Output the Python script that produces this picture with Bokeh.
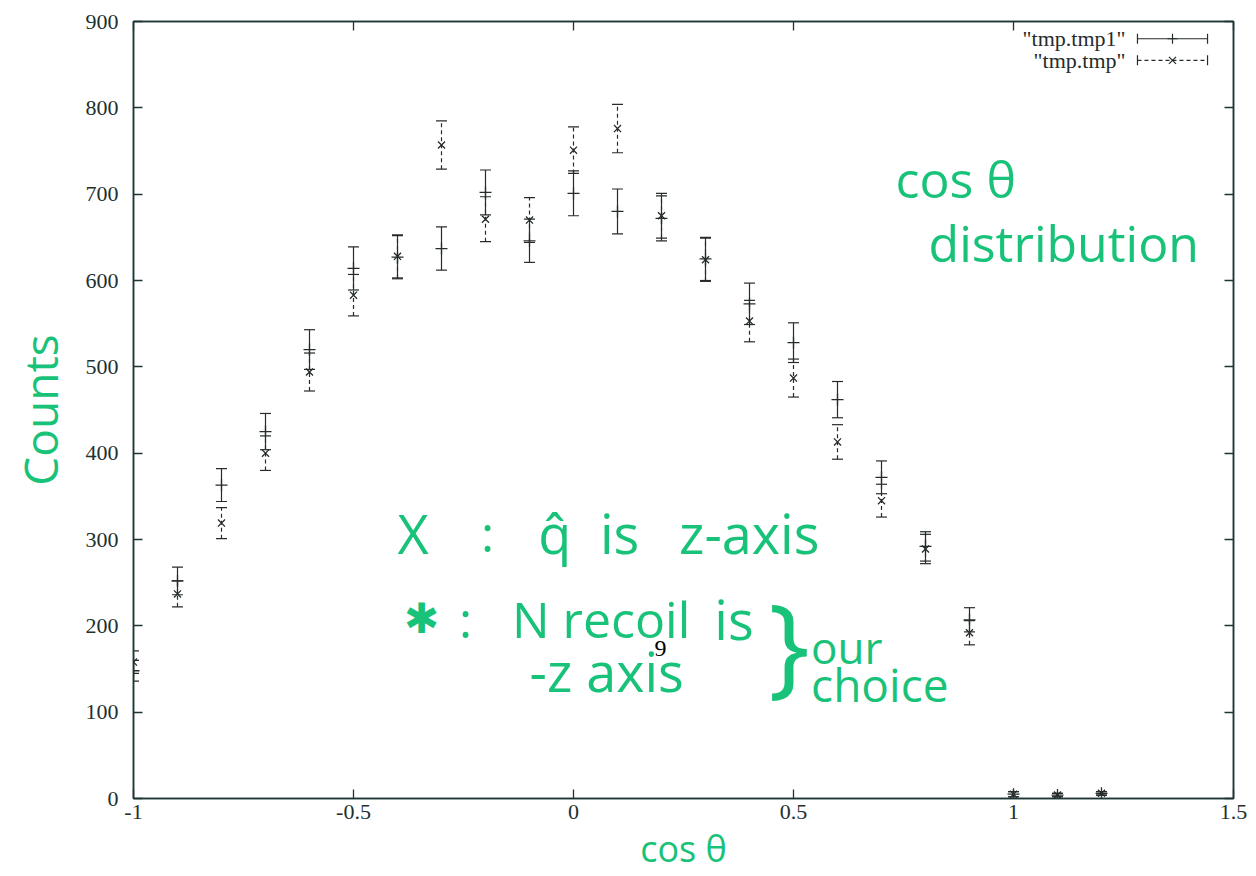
import numpy as np
from bokeh.plotting import figure
from bokeh.models import (LinearAxis, FixedTicker, Range1d, Label, Whisker,
                          TeeHead, ColumnDataSource)
from bokeh.embed import file_html
from bokeh.resources import INLINE

# ---------------- data ----------------
cos_theta = [-1.0, -0.9, -0.8, -0.7, -0.6, -0.5, -0.4, -0.3, -0.2, -0.1, 0.0,
             0.1, 0.2, 0.3, 0.4, 0.5, 0.6, 0.7, 0.8, 0.9, 1.0, 1.1, 1.2]
tmp1_counts = [148, 252, 363, 425, 520, 614, 627, 637, 702, 646, 701,
               680, 672, 625, 573, 528, 462, 372, 292, 207, 5, 4, 6]
tmp1_err = [12, 16, 19, 21, 23, 25, 25, 25, 26, 25, 26,
            26, 26, 25, 24, 23, 21, 19, 17, 14, 3, 2, 2]
tmp_counts = [158, 237, 319, 400, 494, 583, 628, 757, 671, 670, 751,
              776, 675, 624, 553, 487, 413, 345, 289, 192, 5, 4, 6]
tmp_err = [13, 15, 18, 20, 22, 24, 25, 28, 26, 26, 27,
           28, 26, 25, 24, 22, 20, 19, 17, 14, 3, 2, 2]

x_ticks = [-1, -0.5, 0, 0.5, 1, 1.5]
x_tick_labels = ["-1", "-0.5", "0", "0.5", "1", "1.5"]
y_ticks = [0, 100, 200, 300, 400, 500, 600, 700, 800, 900]

series_names = ['"tmp.tmp1"', '"tmp.tmp"']

# ---------------- styling ----------------
XR = (-1.0, 1.5)
YR = (0.0, 900.0)
INK = "#262b2b"
AXC = "#1f3535"
GREEN = "#19c279"
SERIF = "Liberation Serif"
HAND = "Open Sans"

p = figure(width=1248, height=876, x_range=Range1d(*XR), y_range=Range1d(*YR),
           output_backend="svg", toolbar_location=None,
           min_border_left=133, min_border_right=15,
           min_border_top=21, min_border_bottom=78)
p.background_fill_color = "white"
p.border_fill_color = "white"
p.grid.visible = False
p.outline_line_color = AXC
p.outline_line_width = 1.5

xt = FixedTicker(ticks=x_ticks)
yt = FixedTicker(ticks=y_ticks)
p.xaxis.ticker = xt
p.yaxis.ticker = yt
p.xaxis.major_label_overrides = {t: s for t, s in zip(x_ticks, x_tick_labels)}

for ax in (p.xaxis[0], p.yaxis[0]):
    ax.major_tick_in = 9
    ax.major_tick_out = 0
    ax.minor_tick_line_color = None
    ax.axis_line_color = AXC
    ax.axis_line_width = 1.5
    ax.major_tick_line_color = AXC
    ax.major_tick_line_width = 1.3
    ax.major_label_text_font = SERIF
    ax.major_label_text_font_size = "22px"
    ax.major_label_text_color = "#1e3030"
    ax.axis_label_text_font = HAND
    ax.axis_label_text_font_style = "normal"
    ax.axis_label_text_color = GREEN

p.yaxis.major_label_standoff = 15
p.xaxis.major_label_standoff = 6
p.yaxis.axis_label = "Counts"
p.yaxis.axis_label_text_font_size = "46px"
p.yaxis.axis_label_standoff = 12
p.xaxis.axis_label = "cos θ"
p.xaxis.axis_label_text_font_size = "36px"
p.xaxis.axis_label_standoff = 2

# mirrored ticks (gnuplot style), no labels
for loc, tk in (("above", xt), ("right", yt)):
    ax = LinearAxis(ticker=tk, major_label_text_font_size="1px",
                    major_label_text_color=None,
                    major_tick_in=9, major_tick_out=0,
                    minor_tick_line_color=None, axis_line_color=AXC,
                    axis_line_width=1.5, major_tick_line_color=AXC,
                    major_tick_line_width=1.3, major_label_standoff=0)
    p.add_layout(ax, loc)

# ---------------- error bars + points ----------------
def add_series(y, e, marker, dash, size):
    y = np.array(y, dtype=float)
    e = np.array(e, dtype=float)
    src = ColumnDataSource(dict(x=cos_theta, y=y, lo=y - e, hi=y + e))
    w = Whisker(source=src, base="x", upper="hi", lower="lo",
                line_color=INK, line_width=1.2, line_dash=dash,
                upper_head=TeeHead(size=11, line_color=INK, line_width=1.2),
                lower_head=TeeHead(size=11, line_color=INK, line_width=1.2))
    p.add_layout(w)
    p.scatter("x", "y", source=src, marker=marker, size=size,
              line_color=INK, line_width=1.3, fill_color=None)

add_series(tmp1_counts, tmp1_err, "cross", "solid", 12)
add_series(tmp_counts, tmp_err, "x", "4 3", 10)

# ---------------- gnuplot-like key (top right) ----------------
span_x = XR[1] - XR[0]
span_y = YR[1] - YR[0]
key_text_x = XR[1] - 0.0982 * span_x
key_x0 = XR[1] - 0.0873 * span_x
key_x1 = XR[1] - 0.0236 * span_x
key_rows = [YR[1] - 0.0222 * span_y, YR[1] - 0.05 * span_y]
key_marker = ["cross", "x"]
key_dash = ["solid", "4 3"]
for name, yy, mk, ds in zip(series_names, key_rows, key_marker, key_dash):
    p.add_layout(Label(x=key_text_x, y=yy, text=name, text_font=SERIF,
                       text_font_size="22px", text_color=INK,
                       text_align="right", text_baseline="middle"))
    p.segment(x0=[key_x0], y0=[yy], x1=[key_x1], y1=[yy],
              line_color=INK, line_width=1.2, line_dash=ds)
    p.scatter(x=[key_x0, key_x1], y=[yy, yy], marker="dash", angle=np.pi / 2,
              size=10, line_color=INK, line_width=1.2)
    p.scatter(x=[(key_x0 + key_x1) / 2], y=[yy], marker=mk, size=10,
              line_color=INK, line_width=1.2)

# ---------------- handwritten notes ----------------
notes = [
    ("cos θ", 0.732, 718, "50px"),
    ("distribution", 0.807, 644, "50px"),
    ("X", -0.40, 307, "54px"),
    (":", -0.21, 307, "50px"),
    ("q̂", -0.08, 307, "54px"),
    ("is", 0.06, 307, "54px"),
    ("z-axis", 0.24, 307, "54px"),
    (":", -0.26, 208, "50px"),
    ("N recoil", -0.14, 208, "50px"),
    ("is", 0.32, 208, "54px"),
    ("-z axis", -0.10, 148, "54px"),
    ("our", 0.54, 176, "44px"),
    ("choice", 0.54, 133, "46px"),
]
for txt, xx, yy, fs in notes:
    p.add_layout(Label(x=xx, y=yy, text=txt, text_font=HAND,
                       text_font_size=fs, text_color=GREEN,
                       text_align="left", text_baseline="alphabetic"))
p.add_layout(Label(x=-0.385, y=211, text="✱", text_font=HAND,
                   text_font_size="42px", text_color=GREEN,
                   text_align="left", text_baseline="middle"))
p.add_layout(Label(x=0.443, y=183, text="}", text_font=HAND,
                   text_font_size="110px", text_color=GREEN,
                   text_align="left", text_baseline="middle"))

# printed page number
p.add_layout(Label(x=0.198, y=174, text="9", text_font=SERIF,
                   text_font_size="24px", text_color="black",
                   text_align="center", text_baseline="middle"))

open("out.html", "w").write(file_html(p, INLINE))
